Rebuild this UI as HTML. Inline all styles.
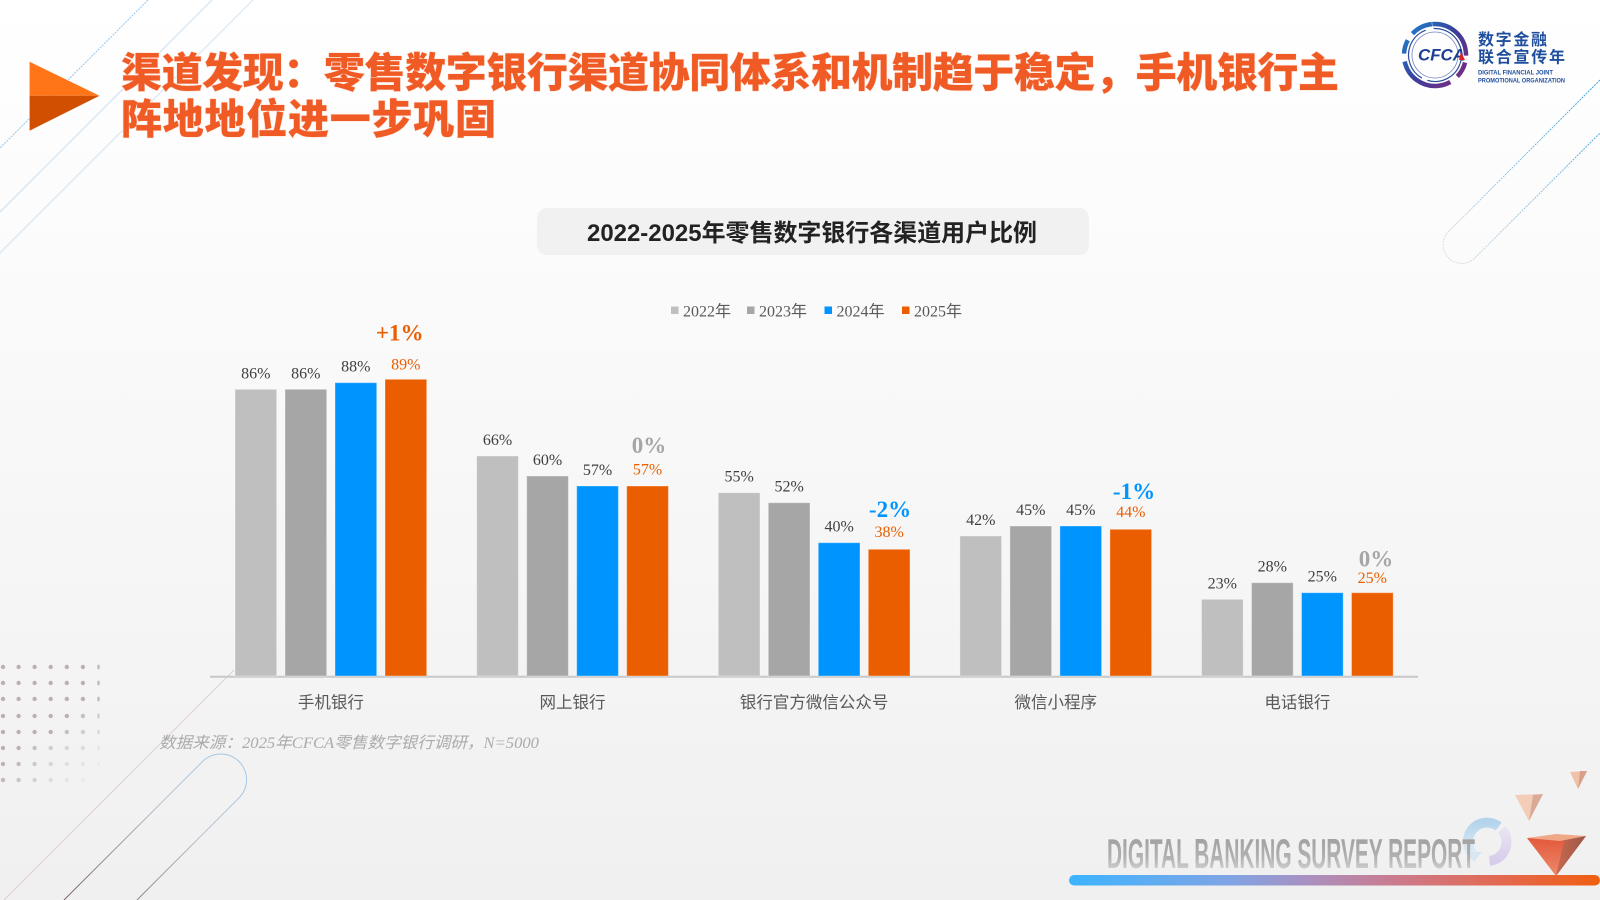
<!DOCTYPE html>
<html>
<head>
<meta charset="utf-8">
<style>
html,body{margin:0;padding:0;background:#f6f6f6;}
svg{display:block;}
</style>
</head>
<body>
<svg width="1600" height="900" viewBox="0 0 1600 900" xmlns="http://www.w3.org/2000/svg">
<defs>
<linearGradient id="bg" x1="0" y1="0" x2="0" y2="1">
<stop offset="0" stop-color="#ffffff"/>
<stop offset="0.35" stop-color="#fafafa"/>
<stop offset="1" stop-color="#f0f0f0"/>
</linearGradient>
<linearGradient id="bar" x1="0" y1="0" x2="1" y2="0">
<stop offset="0" stop-color="#3cb4ff"/>
<stop offset="0.3" stop-color="#7fa4e4"/>
<stop offset="0.45" stop-color="#a990c0"/>
<stop offset="0.62" stop-color="#cc7a8c"/>
<stop offset="0.82" stop-color="#e4684e"/>
<stop offset="1" stop-color="#ef5f10"/>
</linearGradient>
<linearGradient id="dbtext" x1="0" y1="0" x2="0" y2="1">
<stop offset="0" stop-color="#9a9a9a"/>
<stop offset="0.6" stop-color="#b2b2b2"/>
<stop offset="1" stop-color="#e2e2e2"/>
</linearGradient>
<linearGradient id="logoRing" x1="1" y1="0" x2="0" y2="1">
<stop offset="0" stop-color="#1a86d0"/>
<stop offset="0.5" stop-color="#3a3e9a"/>
<stop offset="1" stop-color="#86287f"/>
</linearGradient>
<linearGradient id="capBL" x1="0" y1="1" x2="1" y2="0">
<stop offset="0" stop-color="#7a6268"/>
<stop offset="0.6" stop-color="#b8c0cc"/>
<stop offset="1" stop-color="#9cc8ec"/>
</linearGradient>
<linearGradient id="capTR" x1="1" y1="0" x2="0" y2="1">
<stop offset="0" stop-color="#3a9ee0"/>
<stop offset="1" stop-color="#e0e0e0"/>
</linearGradient>
<linearGradient id="ringB" x1="0" y1="0" x2="0" y2="1">
<stop offset="0" stop-color="#b4d4ec"/>
<stop offset="1" stop-color="#e4eef6"/>
</linearGradient>
<linearGradient id="ringL" x1="0" y1="0" x2="0" y2="1">
<stop offset="0" stop-color="#e8e4f2"/>
<stop offset="1" stop-color="#d8cdea"/>
</linearGradient>
<linearGradient id="pyrL" x1="0" y1="0" x2="0" y2="1">
<stop offset="0" stop-color="#e2563a"/>
<stop offset="1" stop-color="#ee8a6a"/>
</linearGradient>
<linearGradient id="pyrR" x1="0" y1="0" x2="1" y2="0">
<stop offset="0" stop-color="#c86850"/>
<stop offset="1" stop-color="#9a5848"/>
</linearGradient>
</defs>

<!-- background -->
<rect x="0" y="0" width="1600" height="900" fill="url(#bg)"/>

<!-- top-left decorative lines -->
<line x1="148" y1="0" x2="0" y2="148" stroke="#7fb8e6" stroke-width="1" stroke-dasharray="2 1" opacity="0.8"/>
<line x1="212" y1="0" x2="0" y2="212" stroke="#a8cce8" stroke-width="1" opacity="0.6"/>
<line x1="253" y1="0" x2="0" y2="253" stroke="#b8d4ea" stroke-width="1" opacity="0.6"/>

<!-- top-right capsule -->
<path d="M1600,80 L1447.8,232.3 A18.7,18.7 0 0 0 1474.2,258.7 L1600,133" fill="none" stroke="url(#capTR)" stroke-width="1" stroke-dasharray="2 1"/>

<!-- bottom-left lines -->
<line x1="234" y1="670" x2="4" y2="900" stroke="#d8c8cc" stroke-width="1" opacity="0.8"/>
<path d="M64,900 L203.8,760.3 A25.8,25.8 0 0 1 240.2,796.7 L137,900" fill="none" stroke="url(#capBL)" stroke-width="1"/>

<!-- dot grid -->
<g fill="#bcb0b4">
<circle cx="3" cy="667" r="2.2"/><circle cx="18.6" cy="667" r="2.2"/><circle cx="34.6" cy="667" r="2.2"/><circle cx="50.7" cy="667" r="2.2"/><circle cx="66.8" cy="667" r="2.2"/><circle cx="82.9" cy="667" r="2.2"/><rect x="97.5" y="664.8" width="2" height="4.4"/>
<circle cx="3" cy="683" r="2.2"/><circle cx="18.6" cy="683" r="2.2"/><circle cx="34.6" cy="683" r="2.2"/><circle cx="50.7" cy="683" r="2.2"/><circle cx="66.8" cy="683" r="2.2"/><circle cx="82.9" cy="683" r="2.2"/><rect x="97.5" y="680.8" width="2" height="4.4"/>
<circle cx="3" cy="699" r="2.2"/><circle cx="18.6" cy="699" r="2.2"/><circle cx="34.6" cy="699" r="2.2"/><circle cx="50.7" cy="699" r="2.2"/><circle cx="66.8" cy="699" r="2.2"/><circle cx="82.9" cy="699" r="2.2"/><rect x="97.5" y="696.8" width="2" height="4.4"/>
<circle cx="3" cy="716" r="2.2"/><circle cx="18.6" cy="716" r="2.2"/><circle cx="34.6" cy="716" r="2.2"/><circle cx="50.7" cy="716" r="2.2"/><circle cx="66.8" cy="716" r="2.2"/><circle cx="82.9" cy="716" r="2.2" opacity="0.8"/><rect x="97.5" y="713.8" width="2" height="4.4" opacity="0.7"/>
<circle cx="3" cy="732" r="2.2"/><circle cx="18.6" cy="732" r="2.2"/><circle cx="34.6" cy="732" r="2.2"/><circle cx="50.7" cy="732" r="2.2"/><circle cx="66.8" cy="732" r="2.2" opacity="0.8"/><circle cx="82.9" cy="732" r="2.2" opacity="0.6"/><rect x="97.5" y="729.8" width="2" height="4.4" opacity="0.5"/>
<circle cx="3" cy="748" r="2.2"/><circle cx="18.6" cy="748" r="2.2"/><circle cx="34.6" cy="748" r="2.2" opacity="0.8"/><circle cx="50.7" cy="748" r="2.2" opacity="0.6"/><circle cx="66.8" cy="748" r="2.2" opacity="0.45"/><circle cx="82.9" cy="748" r="2.2" opacity="0.35"/><rect x="97.5" y="745.8" width="2" height="4.4" opacity="0.25"/>
<circle cx="3" cy="764" r="2.2"/><circle cx="18.6" cy="764" r="2.2" opacity="0.85"/><circle cx="34.6" cy="764" r="2.2" opacity="0.65"/><circle cx="50.7" cy="764" r="2.2" opacity="0.45"/><circle cx="66.8" cy="764" r="2.2" opacity="0.3"/><circle cx="82.9" cy="764" r="2.2" opacity="0.2"/><rect x="97.5" y="761.8" width="2" height="4.4" opacity="0.12"/>
<circle cx="3" cy="780" r="2.2" opacity="0.9"/><circle cx="18.6" cy="780" r="2.2" opacity="0.7"/><circle cx="34.6" cy="780" r="2.2" opacity="0.5"/><circle cx="50.7" cy="780" r="2.2" opacity="0.35"/><circle cx="66.8" cy="780" r="2.2" opacity="0.2"/><circle cx="82.9" cy="780" r="2.2" opacity="0.12"/>
</g>

<!-- title triangle -->
<polygon points="29.6,61.7 99.5,95.7 29.6,95.7" fill="#ff7518"/>
<polygon points="29.6,95.7 99.5,95.7 29.6,130.7" fill="#d14f00"/>

<!-- title -->
<g font-family="'Liberation Sans','Noto Sans CJK SC',sans-serif" font-weight="900" font-size="41" fill="#f05a24" style="paint-order:stroke" stroke="#fde6dc" stroke-width="1.2">
<text x="121" y="87" textLength="1218" lengthAdjust="spacing">渠道发现：零售数字银行渠道协同体系和机制趋于稳定，手机银行主</text>
<text x="121" y="133.5" textLength="375" lengthAdjust="spacing">阵地地位进一步巩固</text>
</g>

<!-- CFCA logo -->
<g>
<circle cx="1435" cy="55" r="31" fill="none" stroke="url(#logoRing)" stroke-width="4.5" stroke-dasharray="52 7 16 9 58 8 14 8 22" transform="rotate(-95 1435 55)"/>
<circle cx="1435" cy="55" r="26.5" fill="none" stroke="#2a4c9c" stroke-width="1.2" stroke-dasharray="40 6 60 8 52" transform="rotate(20 1435 55)"/>
<circle cx="1435" cy="55" r="23" fill="none" stroke="#3a4ea0" stroke-width="0.8" opacity="0.7"/>
<text x="1418" y="60.5" font-family="'Liberation Sans',sans-serif" font-weight="700" font-style="italic" font-size="16.5" fill="#1c3f94" textLength="47" lengthAdjust="spacingAndGlyphs">CFCA</text>
<polygon points="1461,52 1465,60 1459,60" fill="#e02020"/>
<text x="1478" y="45" font-family="'Liberation Sans','Noto Sans CJK SC',sans-serif" font-weight="700" font-size="16" fill="#1f4e9e" textLength="69" lengthAdjust="spacing">数字金融</text>
<text x="1478" y="62.5" font-family="'Liberation Sans','Noto Sans CJK SC',sans-serif" font-weight="700" font-size="16" fill="#1f4e9e" textLength="87" lengthAdjust="spacing">联合宣传年</text>
<text x="1478" y="74.5" font-family="'Liberation Sans',sans-serif" font-weight="700" font-size="6" fill="#1f4e9e" textLength="75" lengthAdjust="spacingAndGlyphs">DIGITAL FINANCIAL JOINT</text>
<text x="1478" y="82.5" font-family="'Liberation Sans',sans-serif" font-weight="700" font-size="6" fill="#1f4e9e" textLength="87" lengthAdjust="spacingAndGlyphs">PROMOTIONAL ORGANIZATION</text>
</g>

<!-- chart title box -->
<rect x="537" y="208" width="552" height="47" rx="10" ry="10" fill="#f1f1f1"/>
<text x="587" y="241" font-family="'Liberation Sans','Noto Sans CJK SC',sans-serif" font-weight="700" font-size="24" fill="#222222" textLength="450" lengthAdjust="spacingAndGlyphs">2022-2025年零售数字银行各渠道用户比例</text>

<!-- legend -->
<g font-family="'Liberation Serif','Noto Sans CJK SC',serif" font-size="16" fill="#595959">
<rect x="671" y="306.5" width="7.5" height="7.5" fill="#bfbfbf"/>
<text x="683" y="316.5">2022年</text>
<rect x="747" y="306.5" width="7.5" height="7.5" fill="#a6a6a6"/>
<text x="759" y="316.5">2023年</text>
<rect x="824.5" y="306.5" width="7.5" height="7.5" fill="#0094ff"/>
<text x="836.5" y="316.5">2024年</text>
<rect x="902" y="306.5" width="7.5" height="7.5" fill="#eb5e00"/>
<text x="914" y="316.5">2025年</text>
</g>

<!-- axis -->
<line x1="210" y1="676.8" x2="1418" y2="676.8" stroke="#c8c8c8" stroke-width="2"/>

<!-- bars -->
<g stroke="#ffffff" stroke-opacity="0.35" stroke-width="1">
<rect x="235" y="389.3" width="41.7" height="286.7" fill="#bfbfbf"/>
<rect x="285" y="389.3" width="41.7" height="286.7" fill="#a6a6a6"/>
<rect x="335" y="382.7" width="41.7" height="293.3" fill="#0094ff"/>
<rect x="385" y="379.3" width="41.7" height="296.7" fill="#eb5e00"/>
<rect x="476.7" y="456" width="41.7" height="220" fill="#bfbfbf"/>
<rect x="526.7" y="476" width="41.7" height="200" fill="#a6a6a6"/>
<rect x="576.7" y="486" width="41.7" height="190" fill="#0094ff"/>
<rect x="626.7" y="486" width="41.7" height="190" fill="#eb5e00"/>
<rect x="718.3" y="492.7" width="41.7" height="183.3" fill="#bfbfbf"/>
<rect x="768.3" y="502.7" width="41.7" height="173.3" fill="#a6a6a6"/>
<rect x="818.3" y="542.7" width="41.7" height="133.3" fill="#0094ff"/>
<rect x="868.3" y="549.3" width="41.7" height="126.7" fill="#eb5e00"/>
<rect x="959.9" y="536" width="41.7" height="140" fill="#bfbfbf"/>
<rect x="1009.9" y="526" width="41.7" height="150" fill="#a6a6a6"/>
<rect x="1059.9" y="526" width="41.7" height="150" fill="#0094ff"/>
<rect x="1109.9" y="529.3" width="41.7" height="146.7" fill="#eb5e00"/>
<rect x="1201.5" y="599.3" width="41.7" height="76.7" fill="#bfbfbf"/>
<rect x="1251.5" y="582.7" width="41.7" height="93.3" fill="#a6a6a6"/>
<rect x="1301.5" y="592.7" width="41.7" height="83.3" fill="#0094ff"/>
<rect x="1351.5" y="592.7" width="41.7" height="83.3" fill="#eb5e00"/>
</g>

<!-- value labels -->
<g font-family="'Liberation Serif',serif" font-size="16" fill="#404040" text-anchor="middle">
<text x="255.85" y="378.3">86%</text>
<text x="305.85" y="378.3">86%</text>
<text x="355.85" y="371.7">88%</text>
<text x="497.55" y="445">66%</text>
<text x="547.55" y="465">60%</text>
<text x="597.55" y="475">57%</text>
<text x="739.15" y="481.7">55%</text>
<text x="789.15" y="491.7">52%</text>
<text x="839.15" y="531.7">40%</text>
<text x="980.75" y="525">42%</text>
<text x="1030.75" y="515">45%</text>
<text x="1080.75" y="515">45%</text>
<text x="1222.35" y="588.3">23%</text>
<text x="1272.35" y="571.7">28%</text>
<text x="1322.35" y="581.7">25%</text>
</g>
<g font-family="'Liberation Serif',serif" font-size="16" fill="#eb5e00" text-anchor="middle">
<text x="405.85" y="369.5">89%</text>
<text x="647.55" y="474.5">57%</text>
<text x="889.15" y="537">38%</text>
<text x="1130.75" y="517">44%</text>
<text x="1372.35" y="583">25%</text>
</g>

<!-- change labels -->
<g font-family="'Liberation Serif',serif" font-size="23" font-weight="700" text-anchor="middle">
<text x="399.7" y="340.5" fill="#eb5e00">+1%</text>
<text x="649" y="453" fill="#a6a6a6">0%</text>
<text x="890" y="517" fill="#0094ff">-2%</text>
<text x="1134" y="499" fill="#0094ff">-1%</text>
<text x="1376" y="566.5" fill="#a6a6a6">0%</text>
</g>

<!-- category labels -->
<g font-family="'Liberation Sans','Noto Sans CJK SC',sans-serif" font-size="16.5" fill="#595959" text-anchor="middle">
<text x="330.85" y="708">手机银行</text>
<text x="572.55" y="708">网上银行</text>
<text x="814.15" y="708">银行官方微信公众号</text>
<text x="1055.75" y="708">微信小程序</text>
<text x="1297.35" y="708">电话银行</text>
</g>

<!-- source -->
<text x="159" y="748" font-family="'Liberation Serif','Noto Sans CJK SC',serif" font-style="italic" font-size="16" fill="#ababab" textLength="380" lengthAdjust="spacingAndGlyphs">数据来源：2025年CFCA零售数字银行调研，N=5000</text>

<!-- bottom-right decoration: ring -->
<path d="M1474.3,855.7 A19,19 0 0 1 1498.7,826.6" fill="none" stroke="url(#ringB)" stroke-width="10"/>
<path d="M1501.6,829.3 A19,19 0 0 1 1489.5,860.9" fill="none" stroke="url(#ringL)" stroke-width="10"/>
<polygon points="1466,852 1482,852 1474,862" fill="#d8e6f2"/>

<text x="1107" y="868" font-family="'Liberation Sans',sans-serif" font-weight="700" font-size="42" fill="url(#dbtext)" textLength="368" lengthAdjust="spacingAndGlyphs">DIGITAL BANKING SURVEY REPORT</text>
<rect x="1069" y="875" width="531" height="10.5" rx="5.25" ry="5.25" fill="url(#bar)"/>

<!-- pyramids -->
<polygon points="1570,772 1587,771 1578,789" fill="#f0c2a8"/>
<polygon points="1580,771 1587,771 1578,789" fill="#d8a08a"/>
<polygon points="1515,795 1543,794 1529,821" fill="#f3cdb8"/>
<polygon points="1533,795 1543,794 1529,821" fill="#d9aa96"/>
<polygon points="1527,838 1586,836 1556,876" fill="url(#pyrL)"/>
<polygon points="1565,837 1586,836 1556,876" fill="url(#pyrR)"/>
<polygon points="1527,838 1556,834 1586,836 1560,841" fill="#f0a888"/>
</svg>
</body>
</html>
